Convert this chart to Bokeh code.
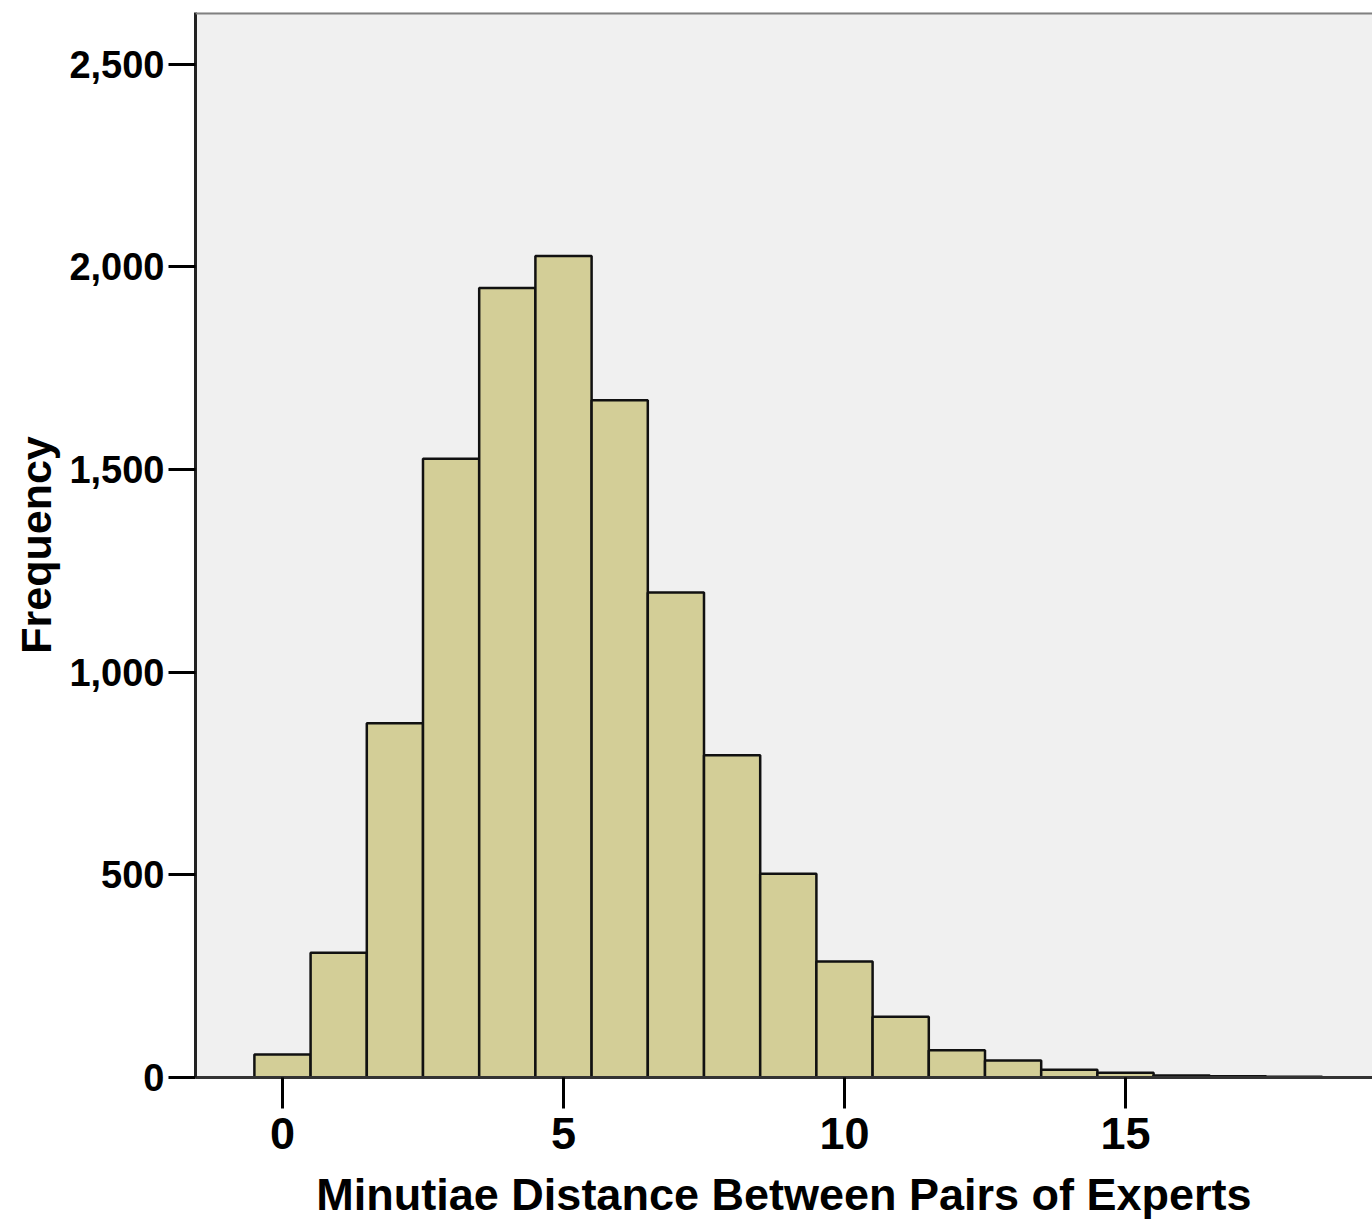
from bokeh.plotting import figure
from bokeh.models import Range1d, NumeralTickFormatter, FixedTicker, Span, ColumnDataSource
from bokeh.embed import file_html
from bokeh.resources import INLINE

# Data: histogram of minutiae distance (bin centers and frequencies)
distance = [0, 1, 2, 3, 4, 5, 6, 7, 8, 9, 10, 11, 12, 13, 14, 15, 16, 17, 18]
frequency = [57, 308, 874, 1527, 1948, 2027, 1671, 1197, 795, 503, 286, 150, 67, 42, 19, 12, 5, 3, 2]
x_ticks = [0, 5, 10, 15]
y_ticks = [0, 500, 1000, 1500, 2000, 2500]

src = ColumnDataSource(dict(
    left=[d - 0.5 for d in distance],
    right=[d + 0.5 for d in distance],
    top=frequency,
    bottom=[0] * len(distance),
))

p = figure(width=1372, height=1223, output_backend="svg", toolbar_location=None,
           x_range=Range1d(-1.548, 19.395), y_range=Range1d(0, 2628),
           min_border_left=195, min_border_top=12, min_border_bottom=146, min_border_right=0)

p.background_fill_color = "#f0f0f0"
p.border_fill_color = "white"
p.outline_line_color = None
p.xgrid.visible = False
p.ygrid.visible = False

p.quad(left="left", right="right", top="top", bottom="bottom", source=src,
       fill_color="#d3ce97", line_color="#111111", line_width=2.5)

p.add_layout(Span(location=2628, dimension="width", line_color="#808080", line_width=4))

font = "Liberation Sans"

p.xaxis.ticker = FixedTicker(ticks=x_ticks)
p.xaxis.axis_label = "Minutiae Distance Between Pairs of Experts"
p.xaxis.axis_label_text_font = font
p.xaxis.axis_label_text_font_style = "bold"
p.xaxis.axis_label_text_font_size = "45px"
p.xaxis.axis_label_standoff = 17
p.xaxis.major_label_text_font = font
p.xaxis.major_label_text_font_style = "bold"
p.xaxis.major_label_text_font_size = "45px"
p.xaxis.major_label_standoff = 9
p.xaxis.major_tick_out = 31
p.xaxis.major_tick_in = 0
p.xaxis.minor_tick_line_color = None
p.xaxis.major_tick_line_width = 3
p.xaxis.axis_line_width = 3
p.xaxis.axis_line_color = "#333333"
p.xaxis.major_label_text_color = "black"
p.xaxis.axis_label_text_color = "black"

p.yaxis.ticker = FixedTicker(ticks=y_ticks)
p.yaxis.formatter = NumeralTickFormatter(format="0,0")
p.yaxis.axis_label = "Frequency"
p.yaxis.axis_label_text_font = font
p.yaxis.axis_label_text_font_style = "bold"
p.yaxis.axis_label_text_font_size = "43px"
p.yaxis.axis_label_standoff = 6
p.yaxis.major_label_text_font = font
p.yaxis.major_label_text_font_style = "bold"
p.yaxis.major_label_text_font_size = "38px"
p.yaxis.major_label_standoff = 4
p.yaxis.major_tick_out = 27
p.yaxis.major_tick_in = 0
p.yaxis.minor_tick_line_color = None
p.yaxis.major_tick_line_width = 3
p.yaxis.axis_line_width = 3
p.yaxis.axis_line_color = "#222222"
p.yaxis.major_label_text_color = "black"
p.yaxis.axis_label_text_color = "black"

open("out.html", "w").write(file_html(p, INLINE))
